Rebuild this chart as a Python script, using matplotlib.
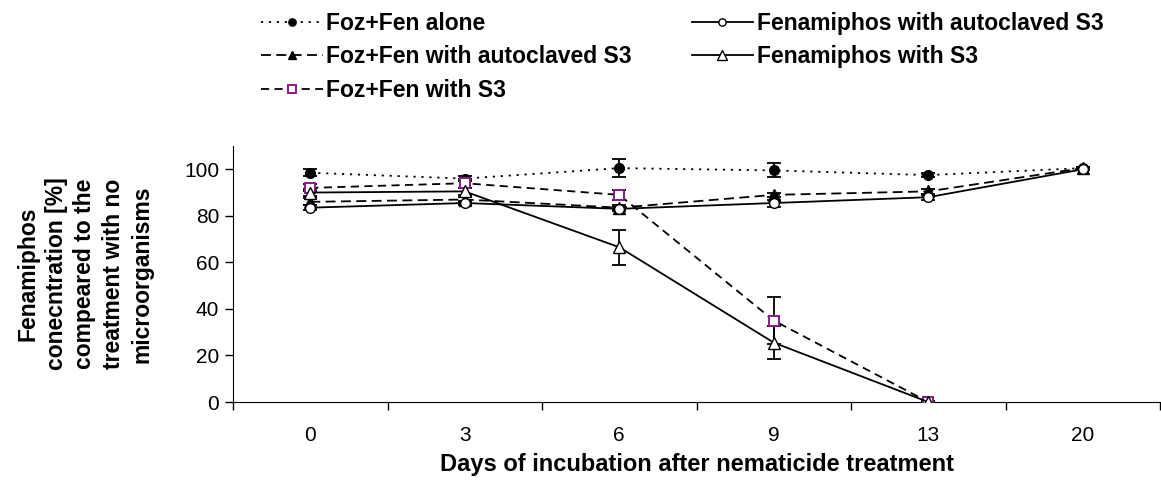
import numpy as np
import matplotlib
matplotlib.use("Agg")
import matplotlib.pyplot as plt

plt.rcParams['font.family'] = ['Liberation Sans', 'DejaVu Sans']

# data
days = ['0', '3', '6', '9', '13', '20']

foz_alone = [98.5, 96, 100.5, 99.5, 97.5, 100.5]
foz_alone_err = [1.5, 1, 4, 3, 1, 0.5]

foz_auto = [86, 87, 83.5, 89, 90.5, 100.5]
foz_auto_err = [1.5, 1, 1, 1, 1, 0.5]

foz_s3 = [92, 94, 89, 35, 0, np.nan]
foz_s3_err = [1.5, 2, 2, 10, 0.5, 0]

fen_auto = [83.5, 85.5, 83, 85.5, 88, 100]
fen_auto_err = [1, 1, 1, 1.5, 1, 0.5]

fen_s3 = [90, 90.5, 66.5, 25.5, 0, np.nan]
fen_s3_err = [1.5, 1.5, 7.5, 7, 0.5, 0]

labels = ['Foz+Fen alone', 'Foz+Fen with autoclaved S3', 'Foz+Fen with S3',
          'Fenamiphos with autoclaved S3', 'Fenamiphos with S3']

fig = plt.figure(figsize=(11.61, 4.86), dpi=100)
ax = fig.add_axes([0.2007, 0.1728, 0.7985, 0.5268])

x = np.arange(len(days))

styles = [
    (foz_alone, foz_alone_err, dict(linestyle=(0, (1.2, 3.2)), marker='o', mfc='black', mec='black', ms=7)),
    (foz_auto, foz_auto_err, dict(linestyle=(0, (5.5, 3)), marker='^', mfc='black', mec='black', ms=8)),
    (foz_s3, foz_s3_err, dict(linestyle=(0, (4.5, 3)), marker='s', mfc='white', mec='#8B1A8B', ms=7, mew=1.4)),
    (fen_auto, fen_auto_err, dict(linestyle='-', marker='o', mfc='white', mec='black', ms=7)),
    (fen_s3, fen_s3_err, dict(linestyle='-', marker='^', mfc='white', mec='black', ms=9)),
]

handles = []
for (vals, err, st), lab in zip(styles, labels):
    ax.errorbar(x, vals, yerr=err, fmt='none', ecolor='black', elinewidth=1.3,
                capsize=5, capthick=1.3, zorder=2)
    h, = ax.plot(x, vals, color='black', lw=1.3, label=lab, zorder=3, **st)
    handles.append(h)

ax.set_xlim(-0.5, 5.5)
ax.set_ylim(0, 110)
ax.set_yticks([0, 20, 40, 60, 80, 100])
ax.set_xticks(x)
ax.set_xticklabels(days)
ax.set_xticks(np.arange(-0.5, 6.0, 1.0), minor=True)
ax.tick_params(axis='x', which='major', length=0, pad=17, labelsize=15)
ax.tick_params(axis='x', which='minor', length=6, width=1, direction='out')
ax.tick_params(axis='y', length=6, width=1, direction='out', labelsize=15, pad=4)

ax.spines['top'].set_visible(False)
ax.spines['right'].set_visible(False)

ax.set_xlabel('Days of incubation after nematicide treatment',
              fontsize=17, fontweight='bold', labelpad=6)
fig.text(0.073, 0.436,
         'Fenamiphos\nconecntration [%]\ncompeared to the\ntreatment with no\nmicroorganisms',
         rotation=90, ha='center', va='center', fontsize=16.5, fontweight='bold',
         linespacing=1.3, multialignment='center')

fig.legend(handles=handles, ncol=2, loc='upper left', bbox_to_anchor=(261 / 1161, 0.975),
           frameon=False, prop=dict(size=16.5, weight='bold'), handlelength=2.7,
           columnspacing=2.6, handletextpad=0.15, labelspacing=0.45, markerscale=0.75,
           borderpad=0, borderaxespad=0)

fig.savefig('out.png', dpi=100)
